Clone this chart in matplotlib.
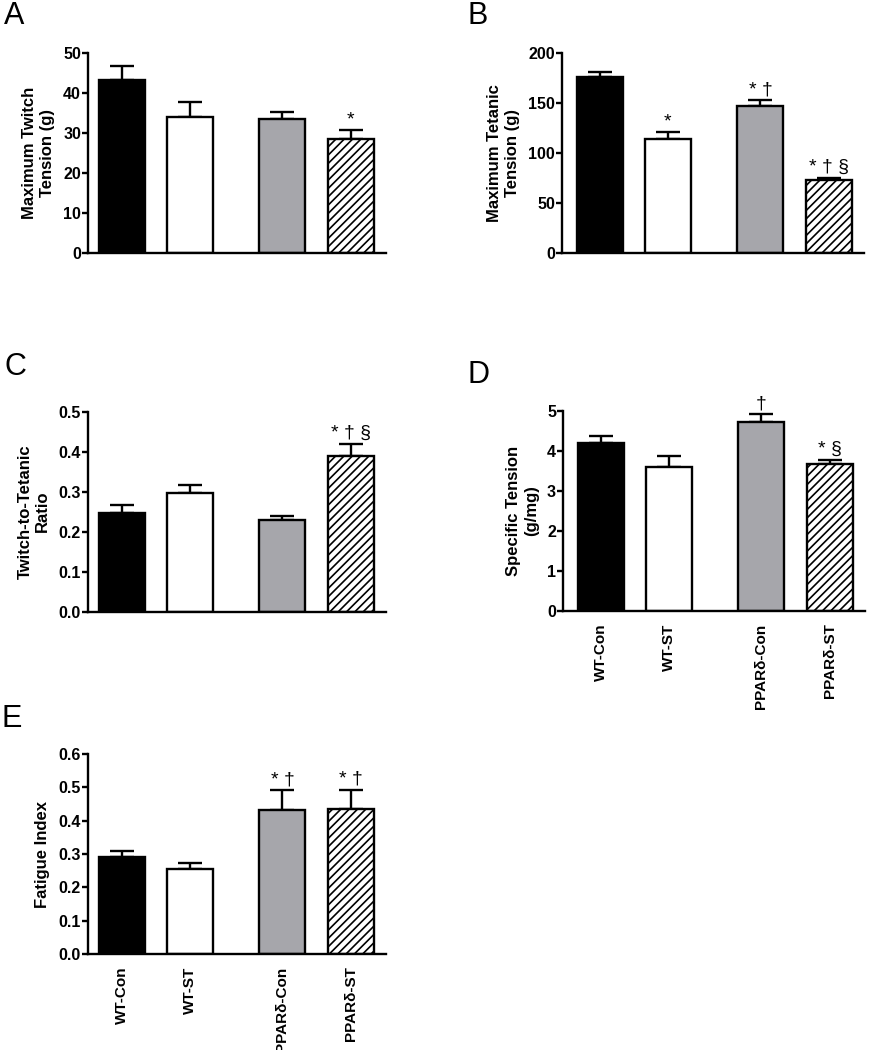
import matplotlib
matplotlib.use("Agg")
import matplotlib.pyplot as plt

plt.rcParams['font.family'] = ['Liberation Sans', 'DejaVu Sans']
plt.rcParams['hatch.linewidth'] = 1.2

groups = ['WT-Con', 'WT-ST', 'PPARδ-Con', 'PPARδ-ST']

twitch = [43.2, 34.1, 33.5, 28.4]
twitch_err = [3.5, 3.7, 1.7, 2.3]
twitch_sig = ['', '', '', '*']

tetanic = [176, 114, 147, 73]
tetanic_err = [5.5, 7, 6, 2.5]
tetanic_sig = ['', '*', '* †', '* † §']

ratio = [0.246, 0.296, 0.229, 0.389]
ratio_err = [0.020, 0.020, 0.010, 0.030]
ratio_sig = ['', '', '', '* † §']

specific = [4.21, 3.61, 4.73, 3.68]
specific_err = [0.17, 0.26, 0.19, 0.09]
specific_sig = ['', '', '†', '* §']

fatigue = [0.290, 0.255, 0.433, 0.435]
fatigue_err = [0.019, 0.018, 0.059, 0.058]
fatigue_sig = ['', '', '* †', '* †']

positions = [0, 1, 2.37, 3.38]
fills = ['black', 'white', '#a6a6ab', 'white']
hatches = [None, None, None, '////']

fig = plt.figure(figsize=(8.69, 10.5), dpi=100)


def panel(rect, letter, letter_xy, values, errs, sig, ylabel, ymax, yticks,
          ticklabels, xleft, xlabels=False):
    ax = fig.add_axes(rect)
    ax.bar(positions, values, width=0.68, color=fills, edgecolor='black',
           linewidth=1.7, hatch=hatches, zorder=2)
    ax.errorbar(positions, values, yerr=[[0] * 4, errs], fmt='none',
                ecolor='black', elinewidth=1.7, capsize=8.5, capthick=1.7,
                zorder=1)
    for x, v, e, s in zip(positions, values, errs, sig):
        if s:
            ax.text(x, v + e + ymax * 0.01, s, ha='center', va='bottom',
                    fontsize=14)
    ax.set_ylim(0, ymax)
    ax.set_xlim(xleft, 3.9)
    ax.set_yticks(yticks)
    ax.set_yticklabels(ticklabels, fontweight='bold', fontsize=11.5)
    ax.set_ylabel(ylabel, fontweight='bold', fontsize=12, labelpad=6)
    for side in ['top', 'right']:
        ax.spines[side].set_visible(False)
    for side in ['left', 'bottom']:
        ax.spines[side].set_linewidth(1.7)
    ax.tick_params(axis='y', width=1.7, length=4, pad=1)
    if xlabels:
        ax.set_xticks(positions)
        ax.set_xticklabels(groups, rotation=90, fontweight='bold', fontsize=11)
        ax.tick_params(axis='x', length=0, pad=9)
    else:
        ax.set_xticks([])
    fig.text(letter_xy[0], letter_xy[1], letter, fontsize=22, ha='left',
             va='top')
    return ax


h = 200 / 1050
panel([88 / 869, 1 - 253 / 1050, 298 / 869, h], 'A', (4 / 869, 1 - 1 / 1050),
      twitch, twitch_err, twitch_sig, 'Maximum Twitch\nTension (g)', 50,
      [0, 10, 20, 30, 40, 50], ['0', '10', '20', '30', '40', '50'], -0.5)
panel([562 / 869, 1 - 253 / 1050, 302 / 869, h], 'B', (468 / 869, 1 - 1 / 1050),
      tetanic, tetanic_err, tetanic_sig, 'Maximum Tetanic\nTension (g)', 200,
      [0, 50, 100, 150, 200], ['0', '50', '100', '150', '200'], -0.56)
panel([88 / 869, 1 - 611.5 / 1050, 298 / 869, h], 'C', (4 / 869, 1 - 352 / 1050),
      ratio, ratio_err, ratio_sig, 'Twitch-to-Tetanic\nRatio', 0.5,
      [0, 0.1, 0.2, 0.3, 0.4, 0.5], ['0.0', '0.1', '0.2', '0.3', '0.4', '0.5'],
      -0.5)
panel([563 / 869, 1 - 611 / 1050, 302 / 869, h], 'D', (468 / 869, 1 - 360 / 1050),
      specific, specific_err, specific_sig, 'Specific Tension\n(g/mg)', 5,
      [0, 1, 2, 3, 4, 5], ['0', '1', '2', '3', '4', '5'], -0.56, xlabels=True)
panel([88 / 869, 1 - 954 / 1050, 298 / 869, h], 'E', (1 / 869, 1 - 704 / 1050),
      fatigue, fatigue_err, fatigue_sig, 'Fatigue Index', 0.6,
      [0, 0.1, 0.2, 0.3, 0.4, 0.5, 0.6],
      ['0.0', '0.1', '0.2', '0.3', '0.4', '0.5', '0.6'], -0.5, xlabels=True)

fig.savefig('out.png', dpi=100, facecolor='white')
